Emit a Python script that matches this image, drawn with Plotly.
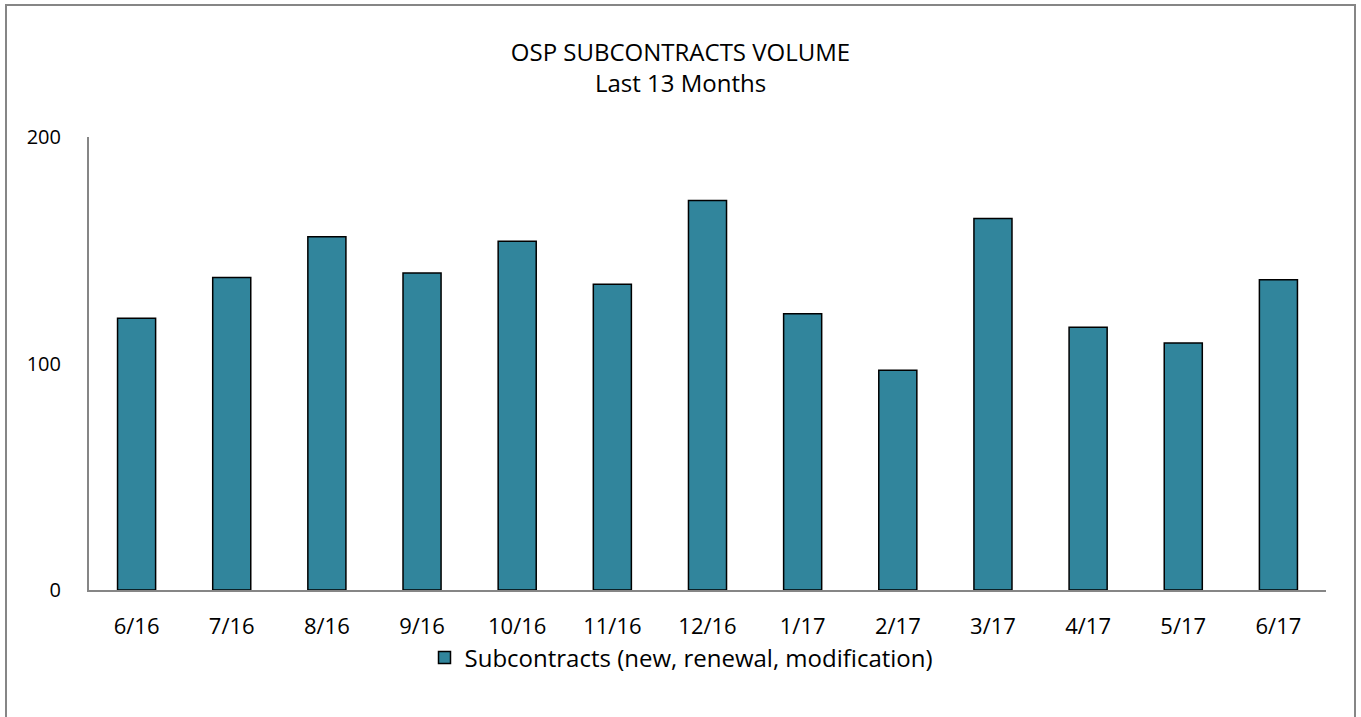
import plotly.graph_objects as go

months = ["6/16", "7/16", "8/16", "9/16", "10/16", "11/16", "12/16",
          "1/17", "2/17", "3/17", "4/17", "5/17", "6/17"]
subcontracts = [120, 138, 156, 140, 154, 135, 172, 122, 97, 164, 116, 109, 137]
y_ticks = [0, 100, 200]
series_name = "Subcontracts (new, renewal, modification)"

W, H = 1361, 717
L, R, T, B = 89, 35, 137, 127
pw, ph = W - L - R, H - T - B

fig = go.Figure()
fig.add_trace(go.Bar(
    x=months, y=subcontracts, name=series_name,
    marker=dict(color="#31859C", line=dict(color="#000000", width=1.5)),
    width=0.4,
))

font = "Open Sans"
fig.update_layout(
    width=W, height=H,
    margin=dict(l=L, r=R, t=T, b=B),
    paper_bgcolor="white", plot_bgcolor="white",
    font=dict(family=font, size=20, color="#000000"),
    title=dict(text="OSP SUBCONTRACTS VOLUME<br>Last 13 Months",
               x=0.5, xanchor="center", y=1 - 61 / H, yanchor="middle",
               font=dict(family=font, size=24, color="#000000")),
    showlegend=True,
    legend=dict(orientation="h", x=0.5 - 26 / pw, xanchor="center",
                y=-(658 - (H - B)) / ph, yanchor="middle",
                bgcolor="rgba(0,0,0,0)",
                font=dict(family=font, size=24)),
    bargap=0.6,
)
fig.update_yaxes(range=[0, 200], tickvals=y_ticks, showgrid=False,
                 showline=True, linecolor="#868686", linewidth=2,
                 ticks="", ticklabelstandoff=22, zeroline=False,
                 tickfont=dict(size=20))
fig.update_xaxes(showline=True, linecolor="#868686", linewidth=2,
                 ticks="", ticklabelstandoff=16, tickfont=dict(size=22))

# outer chart frame
fig.add_shape(type="rect", xref="paper", yref="paper",
              x0=(6 - L) / pw, x1=(1355 - L) / pw,
              y0=((H - B) - 725) / ph, y1=((H - B) - 5) / ph,
              line=dict(color="#868686", width=2), fillcolor="rgba(0,0,0,0)",
              layer="below")

fig.write_html("out.html", config={"displayModeBar": False},
               post_script="document.body.style.margin='0px';")
